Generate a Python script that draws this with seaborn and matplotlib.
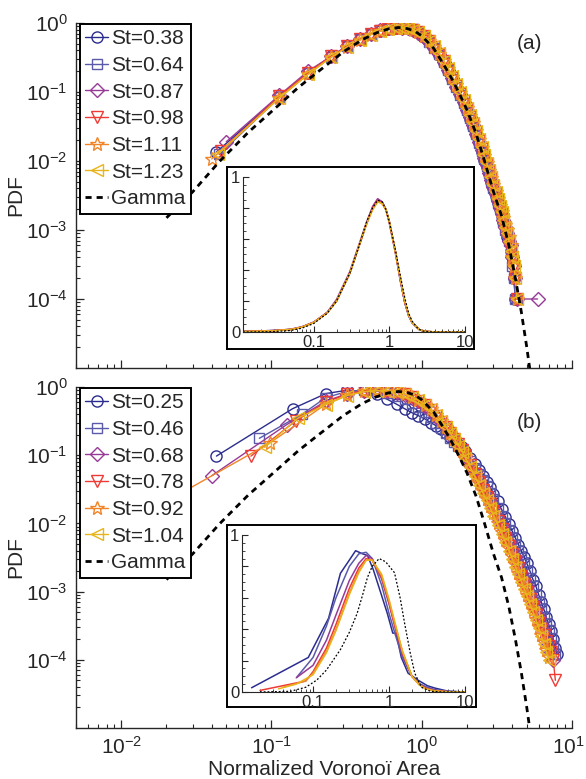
import numpy as np
import pandas as pd
import seaborn as sns
import matplotlib.pyplot as plt
import matplotlib.transforms as mtransforms
from matplotlib.ticker import LogLocator, NullFormatter, FixedLocator, MultipleLocator

sns.set_style('ticks')
plt.rcParams['font.family'] = ['Liberation Sans', 'DejaVu Sans']
plt.rcParams['mathtext.default'] = 'regular'

colors = ['#2b2d8e', '#5a5aab', '#973a97', '#ee3b33', '#f08428', '#e8b41c']
markers = ['o', 's', 'D', 'v', '*', '<']
msizes = [8, 7, 7, 8, 10, 8]

# ---------------- panel (a) ----------------
st_a = ['0.38', '0.64', '0.87', '0.98', '1.11', '1.23']
first_area_a = [0.043, 0.045, 0.050, 0.046, 0.040, 0.044]
bins_a = [0.113, 0.175, 0.25, 0.32, 0.39, 0.46, 0.53, 0.60, 0.67, 0.74, 0.81, 0.88, 0.95,
          1.03, 1.12, 1.21, 1.30, 1.40, 1.50, 1.60, 1.70, 1.80, 1.90, 2.00, 2.10, 2.20,
          2.30, 2.40, 2.50, 2.60, 2.70, 2.80, 2.90, 3.00, 3.10, 3.20, 3.30, 3.40, 3.50,
          3.60, 3.70, 3.80, 3.90, 4.00, 4.10, 4.20, 4.30, 5.90]
pdf_a = [
    [0.0135, 0.086, 0.19, 0.33, 0.46, 0.58, 0.69, 0.77, 0.83, 0.86, 0.87, 0.85, 0.80, 0.73, 0.63, 0.53,
     0.43, 0.345, 0.265, 0.20, 0.152, 0.117, 0.09, 0.069, 0.053, 0.041, 0.031, 0.024, 0.018, 0.0137,
     0.0105, 0.0082, 0.0064, 0.0050, 0.0040, 0.0031, 0.0025, 0.0020, 0.0016, 0.0013, 0.0011, 0.0008,
     0.0007, 0.0005, 0.0004, 0.0002, 0.0001],
    [0.0125, 0.084, 0.19, 0.32, 0.46, 0.58, 0.70, 0.78, 0.83, 0.87, 0.87, 0.85, 0.81, 0.73, 0.64, 0.53,
     0.44, 0.35, 0.27, 0.205, 0.155, 0.118, 0.091, 0.070, 0.054, 0.042, 0.032, 0.0245, 0.0185, 0.014,
     0.0108, 0.0085, 0.0066, 0.0051, 0.0040, 0.0032, 0.0025, 0.0021, 0.0016, 0.0013, 0.0010, 0.0009,
     0.0007, 0.0005, 0.0003, 0.0002, 0.0001, 0.0001],
    [0.019, 0.09, 0.20, 0.33, 0.47, 0.59, 0.70, 0.78, 0.84, 0.87, 0.86, 0.84, 0.80, 0.72, 0.63, 0.53,
     0.44, 0.35, 0.27, 0.21, 0.16, 0.12, 0.093, 0.072, 0.055, 0.043, 0.033, 0.025, 0.019, 0.0145,
     0.011, 0.0087, 0.0068, 0.0053, 0.0042, 0.0033, 0.0026, 0.0021, 0.0017, 0.0014, 0.0011, 0.0009,
     0.0007, 0.0006, 0.0004, 0.0003, 0.0002, 0.0001, 0.0001],
    [0.014, 0.087, 0.19, 0.33, 0.46, 0.58, 0.69, 0.77, 0.83, 0.86, 0.86, 0.84, 0.80, 0.73, 0.64, 0.54,
     0.45, 0.36, 0.28, 0.21, 0.16, 0.123, 0.095, 0.073, 0.056, 0.044, 0.034, 0.026, 0.0195, 0.015,
     0.0115, 0.009, 0.007, 0.0055, 0.0043, 0.0034, 0.0027, 0.0021, 0.0017, 0.0014, 0.0011, 0.0009,
     0.0007, 0.0005, 0.0004, 0.0003, 0.0002, 0.0001],
    [0.0107, 0.082, 0.18, 0.32, 0.45, 0.57, 0.68, 0.76, 0.82, 0.85, 0.86, 0.84, 0.80, 0.73, 0.64, 0.54,
     0.45, 0.36, 0.28, 0.215, 0.165, 0.127, 0.098, 0.075, 0.058, 0.045, 0.035, 0.027, 0.020, 0.0155,
     0.012, 0.0093, 0.0072, 0.0056, 0.0045, 0.0035, 0.0028, 0.0022, 0.0018, 0.0015, 0.0012, 0.0010,
     0.0008, 0.0006, 0.0004, 0.0003, 0.0002, 0.0001],
    [0.0125, 0.083, 0.18, 0.32, 0.45, 0.57, 0.68, 0.76, 0.82, 0.85, 0.85, 0.84, 0.80, 0.73, 0.64, 0.55,
     0.46, 0.37, 0.285, 0.22, 0.168, 0.13, 0.10, 0.077, 0.059, 0.046, 0.036, 0.0275, 0.021, 0.016,
     0.0123, 0.0095, 0.0074, 0.0058, 0.0045, 0.0035, 0.0028, 0.0022, 0.0018, 0.0014, 0.0011, 0.0009,
     0.0007, 0.0005, 0.0004, 0.0003, 0.0002, 0.0001],
]

# ---------------- panel (b) ----------------
st_b = ['0.25', '0.46', '0.68', '0.78', '0.92', '1.04']
head_area_b = [[0.043, 0.138], [0.083, 0.16], [0.040, 0.126], [0.073, 0.145], [0.02, 0.097], [0.09, 0.15]]
head_pdf_b = [[0.097, 0.48], [0.177, 0.40], [0.05, 0.28], [0.097, 0.32], [0.021, 0.15], [0.13, 0.35]]
bins_b = [0.23, 0.32, 0.41, 0.50, 0.59, 0.68, 0.77, 0.86, 0.95, 1.05, 1.15, 1.25, 1.35, 1.45, 1.55,
          1.65, 1.75, 1.85, 1.95, 2.10, 2.25, 2.40, 2.55, 2.70, 2.85, 3.00, 3.20, 3.40, 3.60, 3.80,
          4.00, 4.20, 4.40, 4.60, 4.80, 5.00, 5.25, 5.50, 5.75, 6.00, 6.25, 6.50, 6.75, 7.00, 7.25,
          7.50, 7.75, 8.00]
pdf_b = [
    [0.80, 0.90, 0.86, 0.78, 0.66, 0.56, 0.48, 0.42, 0.38, 0.34, 0.30, 0.27, 0.24, 0.21, 0.185, 0.165,
     0.145, 0.13, 0.115, 0.092, 0.075, 0.061, 0.050, 0.041, 0.034, 0.027, 0.021, 0.016, 0.0125, 0.0098,
     0.0077, 0.0061, 0.0049, 0.0039, 0.0032, 0.0026, 0.0020, 0.0015, 0.0012, 0.0009, 0.0007, 0.00055,
     0.00042, 0.00033, 0.00026, 0.0002, 0.00015, 0.00012],
    [0.70, 0.86, 0.90, 0.87, 0.82, 0.75, 0.67, 0.59, 0.51, 0.43, 0.36, 0.30, 0.25, 0.21, 0.18, 0.155,
     0.135, 0.118, 0.102, 0.082, 0.066, 0.053, 0.043, 0.035, 0.028, 0.023, 0.017, 0.013, 0.010, 0.0079,
     0.0062, 0.0049, 0.0039, 0.0031, 0.0025, 0.0020, 0.0016, 0.0012, 0.0009, 0.0007, 0.00055, 0.00043,
     0.00034, 0.00027, 0.00021, 0.00016, 0.00012],
    [0.62, 0.80, 0.88, 0.89, 0.87, 0.83, 0.77, 0.70, 0.62, 0.53, 0.45, 0.38, 0.31, 0.255, 0.21, 0.17,
     0.14, 0.117, 0.097, 0.073, 0.057, 0.044, 0.034, 0.027, 0.021, 0.017, 0.012, 0.0092, 0.0070, 0.0054,
     0.0041, 0.0032, 0.0025, 0.0019, 0.0015, 0.0012, 0.0009, 0.0007, 0.00055, 0.00043, 0.00034, 0.00027,
     0.00021, 0.00017, 0.00013, 0.0001],
    [0.60, 0.79, 0.88, 0.90, 0.88, 0.84, 0.78, 0.71, 0.63, 0.54, 0.46, 0.38, 0.31, 0.26, 0.21, 0.175,
     0.145, 0.12, 0.10, 0.072, 0.053, 0.041, 0.031, 0.024, 0.019, 0.015, 0.011, 0.0082, 0.0062, 0.0047,
     0.0036, 0.0028, 0.0022, 0.0017, 0.0013, 0.0010, 0.00078, 0.0006, 0.00046, 0.00035, 0.00028, 0.00023,
     0.00019, 0.00016, 0.00013, 0.0001, 0.00005],
    [0.56, 0.76, 0.86, 0.89, 0.88, 0.85, 0.79, 0.72, 0.64, 0.55, 0.47, 0.39, 0.32, 0.26, 0.21, 0.175,
     0.142, 0.117, 0.096, 0.069, 0.051, 0.039, 0.030, 0.023, 0.018, 0.014, 0.010, 0.0076, 0.0057, 0.0043,
     0.0033, 0.0025, 0.0019, 0.0015, 0.0012, 0.0009, 0.0007, 0.00053, 0.0004, 0.0003, 0.00023, 0.00018,
     0.00014, 0.00011],
    [0.55, 0.75, 0.85, 0.88, 0.88, 0.85, 0.79, 0.72, 0.64, 0.55, 0.47, 0.39, 0.32, 0.26, 0.21, 0.17,
     0.138, 0.113, 0.092, 0.067, 0.049, 0.037, 0.028, 0.022, 0.017, 0.013, 0.0095, 0.0071, 0.0053, 0.0040,
     0.0030, 0.0023, 0.0018, 0.0014, 0.0011, 0.00085, 0.00065, 0.0005, 0.00038, 0.00029, 0.00022, 0.00017,
     0.00013, 0.0001],
]

# gamma distribution
gamma_area = [0.02, 0.03, 0.045, 0.07, 0.1, 0.15, 0.2, 0.3, 0.4, 0.5, 0.6, 0.7, 0.8, 0.9, 1.0, 1.2,
              1.4, 1.6, 1.8, 2.0, 2.3, 2.6, 3.0, 3.4, 3.8, 4.2, 4.6, 5.0, 5.4, 5.8]
gamma_pdf = [1.5e-3, 3.6e-3, 9.8e-3, 0.026, 0.052, 0.115, 0.19, 0.38, 0.57, 0.72, 0.82, 0.86, 0.83,
             0.76, 0.65, 0.43, 0.25, 0.15, 0.09, 0.055, 0.025, 0.0105, 3.6e-3, 1.6e-3, 6.0e-4, 2.0e-4,
             6.5e-5, 2.0e-5, 6e-6, 2e-6]

# ---------------- insets (lin-log) ----------------
inset_a_area = [0.0116, 0.02, 0.03, 0.05, 0.07, 0.1, 0.15, 0.2, 0.3, 0.4, 0.5, 0.6, 0.7, 0.8, 0.9, 1.0,
                1.2, 1.4, 1.6, 1.8, 2.0, 2.5, 3.0, 4.0, 5.0, 7.0, 10.0]
inset_a_pdf = [
    [0.004, 0.006, 0.009, 0.016, 0.032, 0.062, 0.125, 0.20, 0.38, 0.56, 0.70, 0.80, 0.85, 0.84, 0.79, 0.71, 0.52, 0.33, 0.19, 0.105, 0.06, 0.014, 0.004, 0.0005, 0.0, 0.0, 0.0],
    [0.005, 0.007, 0.010, 0.017, 0.033, 0.062, 0.124, 0.20, 0.38, 0.56, 0.70, 0.80, 0.85, 0.84, 0.79, 0.71, 0.52, 0.33, 0.19, 0.105, 0.06, 0.014, 0.004, 0.0005, 0.0, 0.0, 0.0],
    [0.004, 0.007, 0.010, 0.018, 0.034, 0.064, 0.126, 0.21, 0.39, 0.57, 0.71, 0.81, 0.86, 0.84, 0.79, 0.70, 0.51, 0.33, 0.19, 0.105, 0.06, 0.014, 0.004, 0.0005, 0.0, 0.0, 0.0],
    [0.003, 0.006, 0.009, 0.017, 0.032, 0.063, 0.124, 0.20, 0.38, 0.56, 0.70, 0.80, 0.85, 0.83, 0.79, 0.71, 0.52, 0.34, 0.19, 0.11, 0.06, 0.015, 0.004, 0.0005, 0.0, 0.0, 0.0],
    [0.003, 0.005, 0.008, 0.016, 0.031, 0.061, 0.122, 0.20, 0.38, 0.56, 0.70, 0.79, 0.84, 0.83, 0.79, 0.71, 0.52, 0.34, 0.20, 0.11, 0.06, 0.015, 0.004, 0.0005, 0.0, 0.0, 0.0],
    [0.003, 0.005, 0.008, 0.016, 0.031, 0.061, 0.122, 0.20, 0.38, 0.56, 0.70, 0.79, 0.84, 0.83, 0.79, 0.71, 0.52, 0.34, 0.20, 0.11, 0.06, 0.015, 0.004, 0.0005, 0.0, 0.0, 0.0],
]
inset_gamma_area = [0.0116, 0.02, 0.03, 0.05, 0.07, 0.1, 0.15, 0.2, 0.3, 0.4, 0.5, 0.6, 0.7, 0.8, 0.9,
                    1.0, 1.2, 1.4, 1.6, 1.8, 2.0, 2.4, 2.8, 3.4, 4.0, 6.0, 10.0]
inset_gamma_pdf = [0.0, 0.001, 0.003, 0.01, 0.025, 0.055, 0.12, 0.20, 0.38, 0.56, 0.71, 0.80, 0.85,
                   0.84, 0.79, 0.71, 0.53, 0.36, 0.22, 0.12, 0.07, 0.02, 0.006, 0.001, 0.0, 0.0, 0.0]

inset_b_area = [
    [0.0155, 0.0865, 0.16, 0.229, 0.30, 0.363, 0.45, 0.52, 0.62, 0.78, 0.95, 1.12, 1.24, 1.45, 1.78, 2.4, 3.2, 4.0, 6.0, 10.0],
    [0.061, 0.1, 0.15, 0.2, 0.3, 0.4, 0.5, 0.6, 0.8, 1.0, 1.2, 1.5, 2.0, 2.5, 3.0, 4.0, 6.0, 10.0],
    [0.06, 0.1, 0.15, 0.2, 0.3, 0.4, 0.5, 0.6, 0.8, 1.0, 1.2, 1.5, 2.0, 2.5, 3.0, 4.0, 6.0, 10.0],
    [0.02, 0.08, 0.1, 0.15, 0.2, 0.3, 0.4, 0.5, 0.6, 0.8, 1.0, 1.2, 1.5, 2.0, 2.5, 3.0, 4.0, 6.0, 10.0],
    [0.04, 0.08, 0.1, 0.15, 0.2, 0.3, 0.4, 0.5, 0.6, 0.8, 1.0, 1.2, 1.5, 2.0, 2.5, 3.0, 4.0, 6.0, 10.0],
    [0.035, 0.06, 0.1, 0.15, 0.2, 0.3, 0.4, 0.5, 0.6, 0.8, 1.0, 1.2, 1.5, 2.0, 2.5, 3.0, 4.0, 6.0, 10.0],
]
inset_b_pdf = [
    [0.027, 0.22, 0.47, 0.756, 0.84, 0.90, 0.88, 0.87, 0.78, 0.63, 0.50, 0.375, 0.375, 0.22, 0.12, 0.076, 0.04, 0.025, 0.005, 0.0],
    [0.094, 0.22, 0.42, 0.60, 0.80, 0.88, 0.89, 0.85, 0.68, 0.50, 0.37, 0.22, 0.10, 0.055, 0.035, 0.015, 0.004, 0.0],
    [0.09, 0.17, 0.33, 0.49, 0.71, 0.82, 0.87, 0.85, 0.72, 0.56, 0.41, 0.24, 0.10, 0.05, 0.027, 0.01, 0.002, 0.0],
    [0.01, 0.07, 0.13, 0.28, 0.43, 0.66, 0.79, 0.85, 0.84, 0.73, 0.57, 0.42, 0.25, 0.10, 0.048, 0.024, 0.008, 0.002, 0.0],
    [0.03, 0.07, 0.12, 0.26, 0.40, 0.63, 0.77, 0.84, 0.84, 0.74, 0.58, 0.43, 0.26, 0.10, 0.046, 0.022, 0.007, 0.001, 0.0],
    [0.02, 0.05, 0.11, 0.25, 0.39, 0.62, 0.76, 0.84, 0.84, 0.75, 0.59, 0.44, 0.26, 0.10, 0.045, 0.021, 0.006, 0.001, 0.0],
]
inset_b_gamma_area = [0.02, 0.05, 0.08, 0.112, 0.15, 0.229, 0.3, 0.38, 0.45, 0.52, 0.6, 0.74, 0.9,
                      1.18, 1.4, 1.6, 1.9, 2.18, 2.67, 3.5, 5.0, 10.0]
inset_b_gamma_pdf = [0.0, 0.004, 0.03, 0.076, 0.14, 0.27, 0.38, 0.50, 0.62, 0.73, 0.80, 0.85, 0.83,
                     0.76, 0.60, 0.44, 0.25, 0.12, 0.03, 0.005, 0.0, 0.0]


def style_log_axes(ax, show_xlabels):
    ax.set_xscale('log')
    ax.set_yscale('log')
    ax.set_xlim(5e-3, 10)
    ax.set_ylim(1e-5, 1)
    ax.set_yticks([1e-4, 1e-3, 1e-2, 1e-1, 1])
    ax.yaxis.set_minor_locator(LogLocator(base=10, subs=np.arange(2, 10), numticks=20))
    ax.xaxis.set_minor_locator(LogLocator(base=10, subs=np.arange(2, 10), numticks=20))
    ax.yaxis.set_minor_formatter(NullFormatter())
    ax.xaxis.set_minor_formatter(NullFormatter())
    ax.tick_params(which='major', direction='in', length=6, width=0.9, labelsize=15, pad=6)
    ax.tick_params(which='minor', direction='in', length=3, width=0.8)
    if not show_xlabels:
        ax.tick_params(axis='x', which='both', labelbottom=False)
    sns.despine(ax=ax)
    for s in ['left', 'bottom']:
        ax.spines[s].set_linewidth(1.0)
    ax.set_ylabel('PDF', fontsize=15)
    ax.yaxis.set_label_coords(-0.103, 0.5)


def draw_series(ax, x, y, i, label):
    df = pd.DataFrame({'area': x, 'pdf': y})
    sns.lineplot(data=df, x='area', y='pdf', ax=ax, color=colors[i], lw=1.0, marker=markers[i],
                 markersize=msizes[i], markerfacecolor='none', markeredgecolor=colors[i],
                 markeredgewidth=1.0, estimator=None, sort=False, label=label)


def draw_inset(fig, box_rect, ax_rect, xs, ys, gx, gy):
    box = fig.add_axes(box_rect)
    box.set_xticks([])
    box.set_yticks([])
    box.set_facecolor('white')
    for s in box.spines.values():
        s.set_linewidth(1.4)
        s.set_color('black')
    ins = fig.add_axes(ax_rect)
    ins.patch.set_alpha(0)
    for i in range(len(xs)):
        d = pd.DataFrame({'area': xs[i], 'pdf': ys[i]})
        sns.lineplot(data=d, x='area', y='pdf', ax=ins, color=colors[i], lw=1.1,
                     estimator=None, sort=False)
    d = pd.DataFrame({'area': gx, 'pdf': gy})
    sns.lineplot(data=d, x='area', y='pdf', ax=ins, color='black', lw=0.9, ls=(0, (1.5, 1.5)),
                 estimator=None, sort=False)
    ins.set_xscale('log')
    ins.set_xlim(0.0116, 10)
    ins.set_ylim(0, 1)
    ins.set_xticks([0.1, 1, 10])
    ins.set_xticklabels(['0.1', '1', '10'])
    ins.xaxis.set_minor_locator(LogLocator(base=10, subs=np.arange(2, 10), numticks=20))
    ins.xaxis.set_minor_formatter(NullFormatter())
    ins.yaxis.set_major_locator(FixedLocator([0, 0.2, 0.4, 0.6, 0.8, 1]))
    ins.set_yticklabels(['0', '', '', '', '', '1'])
    ins.yaxis.set_minor_locator(MultipleLocator(0.05))
    ins.tick_params(which='major', direction='in', length=4, width=0.8, labelsize=12, pad=2)
    ins.tick_params(which='minor', direction='in', length=2, width=0.6)
    ins.set_xlabel('')
    ins.set_ylabel('')
    sns.despine(ax=ins)
    return ins


fig = plt.figure(figsize=(5.86, 7.79), dpi=100)
ax_a = fig.add_axes([0.1297, 0.5276, 0.8464, 0.4429])
ax_b = fig.add_axes([0.1297, 0.0655, 0.8464, 0.4377])

for i in range(6):
    y = pdf_a[i]
    x = [first_area_a[i]] + bins_a[:len(y) - 1]
    draw_series(ax_a, x, y, i, 'St=' + st_a[i])
for i in range(6):
    x = head_area_b[i] + bins_b[:len(pdf_b[i])]
    y = head_pdf_b[i] + pdf_b[i]
    draw_series(ax_b, x, y, i, 'St=' + st_b[i])

for ax in [ax_a, ax_b]:
    g = pd.DataFrame({'area': gamma_area, 'pdf': gamma_pdf})
    sns.lineplot(data=g, x='area', y='pdf', ax=ax, color='black', lw=2.0, ls=(0, (2.2, 1.8)),
                 estimator=None, sort=False, label='Gamma')

style_log_axes(ax_a, False)
style_log_axes(ax_b, True)
ax_a.set_xlabel('')
ax_b.set_xlabel('Normalized Voronoï Area', fontsize=15, labelpad=1)

# keep the 10^1 label inside the canvas
fig.canvas.draw()
for lab in ax_b.get_xticklabels():
    if lab.get_position()[0] == 10:
        lab.set_transform(lab.get_transform() + mtransforms.ScaledTranslation(-4 / 100, 0, fig.dpi_scale_trans))

for ax in [ax_a, ax_b]:
    leg = ax.legend(loc='upper left', bbox_to_anchor=(0.008, 0.997), borderaxespad=0, fontsize=15,
                    handlelength=1.1, handletextpad=0.15, labelspacing=0.37, borderpad=0.25,
                    fancybox=False, framealpha=1, edgecolor='black')
    leg.get_frame().set_linewidth(1.4)

ax_a.text(0.915, 0.94, '(a)', transform=ax_a.transAxes, fontsize=15, ha='center', va='center')
ax_b.text(0.915, 0.897, '(b)', transform=ax_b.transAxes, fontsize=15, ha='center', va='center')

draw_inset(fig, [0.3874, 0.552, 0.4215, 0.2336], [0.4147, 0.5738, 0.3788, 0.199],
           [inset_a_area] * 6, inset_a_pdf, inset_gamma_area, inset_gamma_pdf)
draw_inset(fig, [0.3874, 0.0924, 0.4249, 0.2336], [0.413, 0.1117, 0.3805, 0.2015],
           inset_b_area, inset_b_pdf, inset_b_gamma_area, inset_b_gamma_pdf)

fig.savefig('out.png', dpi=100)
